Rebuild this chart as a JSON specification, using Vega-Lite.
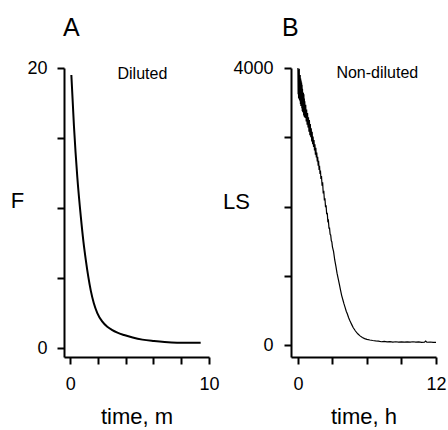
{
  "$schema": "https://vega.github.io/schema/vega-lite/v6.json",
  "background": "white",
  "padding": {"left": 10, "top": 16, "right": 5, "bottom": 0},
  "spacing": 82,
  "bounds": "flush",
  "config": {
    "view": {"stroke": null},
    "font": "Liberation Sans",
    "axis": {
      "grid": false,
      "domainColor": "black",
      "domainWidth": 2,
      "tickColor": "black",
      "tickWidth": 2,
      "tickSize": 7,
      "labelColor": "black",
      "labelFont": "Liberation Sans",
      "labelFontSize": 18,
      "labelPadding": 11,
      "labelOverlap": false,
      "labelFlush": false,
      "labelBound": false,
      "titleColor": "black",
      "titleFont": "Liberation Sans",
      "titleFontSize": 22,
      "titleFontWeight": "normal"
    },
    "title": {"font": "Liberation Sans", "fontSize": 25, "fontWeight": "normal", "color": "black", "anchor": "start", "frame": "group"}
  },
  "hconcat": [
    {
      "width": 145,
      "height": 289,
      "title": {"text": "A", "offset": 18, "dx": -1},
      "encoding": {
        "x": {"field": "t", "type": "quantitative", "scale": {"domain": [-0.45, 10], "nice": false, "zero": false},
              "axis": {"title": "time, m", "values": [0, 2, 4, 6, 8, 10], "labelExpr": "datum.value == 0 || datum.value == 10 ? datum.label : ''", "titleY": 59, "titleBaseline": "middle"}},
        "y": {"field": "F", "type": "quantitative", "scale": {"domain": [-0.64, 20], "nice": false, "zero": false},
              "axis": {"title": "F", "values": [0, 5, 10, 15, 20], "labelExpr": "datum.value == 0 || datum.value == 20 ? datum.label : ''", "labelPadding": 10, "titleAngle": 0, "titleX": -47, "titleY": 132, "titleAlign": "center", "titleBaseline": "middle"}}
      },
      "layer": [
        {
          "data": {"values": [
            {"t": 0.08, "F": 19.5}, {"t": 0.27, "F": 15.8}, {"t": 0.51, "F": 12.2}, {"t": 0.76, "F": 9.4},
            {"t": 0.95, "F": 7.6}, {"t": 1.12, "F": 6.3}, {"t": 1.3, "F": 5.1}, {"t": 1.48, "F": 4.1},
            {"t": 1.7, "F": 3.2}, {"t": 1.95, "F": 2.5}, {"t": 2.3, "F": 1.9}, {"t": 2.67, "F": 1.52},
            {"t": 3.0, "F": 1.3}, {"t": 3.4, "F": 1.1}, {"t": 3.88, "F": 0.93}, {"t": 4.5, "F": 0.75},
            {"t": 5.2, "F": 0.6}, {"t": 6.04, "F": 0.5}, {"t": 6.8, "F": 0.43}, {"t": 7.7, "F": 0.38},
            {"t": 8.5, "F": 0.37}, {"t": 9.4, "F": 0.38}
          ]},
          "mark": {"type": "line", "color": "black", "strokeWidth": 2, "interpolate": "monotone"}
        },
        {
          "data": {"values": [{"t": 5.2, "F": 19.6, "label": "Diluted"}]},
          "mark": {"type": "text", "fontSize": 16, "font": "Liberation Sans", "color": "black"},
          "encoding": {"text": {"field": "label"}}
        }
      ]
    },
    {
      "width": 145,
      "height": 289,
      "title": {"text": "B", "offset": 18, "dx": -9},
      "encoding": {
        "x": {"field": "t", "type": "quantitative", "scale": {"domain": [-0.6, 12], "nice": false, "zero": false},
              "axis": {"title": "time, h", "values": [0, 3, 6, 9, 12], "labelExpr": "datum.value == 0 || datum.value == 12 ? datum.label : ''", "titleY": 59, "titleBaseline": "middle"}},
        "y": {"field": "v", "type": "quantitative", "scale": {"domain": [-170, 4000], "nice": false, "zero": false},
              "axis": {"title": "LS", "format": "d", "values": [0, 1000, 2000, 3000, 4000], "labelExpr": "datum.value == 0 || datum.value == 4000 ? datum.label : ''", "labelPadding": 11, "titleAngle": 0, "titleX": -55, "titleY": 133, "titleAlign": "center", "titleBaseline": "middle"}}
      },
      "layer": [
        {
          "data": {"values": [
            {"t": 0.00, "v": 4000}, {"t": 0.02, "v": 3620}, {"t": 0.04, "v": 3980}, {"t": 0.06, "v": 3560},
            {"t": 0.08, "v": 3950}, {"t": 0.10, "v": 3600}, {"t": 0.12, "v": 3990}, {"t": 0.14, "v": 3540},
            {"t": 0.16, "v": 3880}, {"t": 0.18, "v": 3520}, {"t": 0.20, "v": 3900}, {"t": 0.22, "v": 3480},
            {"t": 0.24, "v": 3850}, {"t": 0.26, "v": 3450}, {"t": 0.28, "v": 3820}, {"t": 0.30, "v": 3500},
            {"t": 0.32, "v": 3790}, {"t": 0.34, "v": 3420}, {"t": 0.36, "v": 3760}, {"t": 0.38, "v": 3380},
            {"t": 0.40, "v": 3700}, {"t": 0.42, "v": 3360}, {"t": 0.44, "v": 3650}, {"t": 0.46, "v": 3380},
            {"t": 0.48, "v": 3640}, {"t": 0.50, "v": 3320}, {"t": 0.52, "v": 3620}, {"t": 0.54, "v": 3300},
            {"t": 0.56, "v": 3560}, {"t": 0.58, "v": 3290}, {"t": 0.60, "v": 3520}, {"t": 0.64, "v": 3280},
            {"t": 0.68, "v": 3470}, {"t": 0.72, "v": 3230}, {"t": 0.76, "v": 3400}, {"t": 0.80, "v": 3180},
            {"t": 0.84, "v": 3350}, {"t": 0.88, "v": 3140}, {"t": 0.92, "v": 3290}, {"t": 0.96, "v": 3080},
            {"t": 1.00, "v": 3250}, {"t": 1.04, "v": 3030}, {"t": 1.08, "v": 3190}, {"t": 1.12, "v": 3000},
            {"t": 1.16, "v": 3130}, {"t": 1.20, "v": 2940}, {"t": 1.24, "v": 3080}, {"t": 1.28, "v": 2900},
            {"t": 1.32, "v": 3010}, {"t": 1.36, "v": 2860}, {"t": 1.40, "v": 2960}, {"t": 1.44, "v": 2810},
            {"t": 1.48, "v": 2900}, {"t": 1.52, "v": 2750}, {"t": 1.56, "v": 2850}, {"t": 1.60, "v": 2710},
            {"t": 1.64, "v": 2780}, {"t": 1.68, "v": 2650}, {"t": 1.72, "v": 2720}, {"t": 1.76, "v": 2590},
            {"t": 1.80, "v": 2660}, {"t": 1.84, "v": 2530}, {"t": 1.88, "v": 2590}, {"t": 1.92, "v": 2470},
            {"t": 1.96, "v": 2520}, {"t": 2.00, "v": 2400}, {"t": 2.05, "v": 2440}, {"t": 2.10, "v": 2300},
            {"t": 2.15, "v": 2350}, {"t": 2.20, "v": 2190}, {"t": 2.25, "v": 2230}, {"t": 2.30, "v": 2090},
            {"t": 2.35, "v": 2120}, {"t": 2.40, "v": 1990}, {"t": 2.45, "v": 2020}, {"t": 2.50, "v": 1890},
            {"t": 2.55, "v": 1910}, {"t": 2.60, "v": 1790}, {"t": 2.65, "v": 1800}, {"t": 2.70, "v": 1690},
            {"t": 2.75, "v": 1690}, {"t": 2.80, "v": 1600}, {"t": 2.85, "v": 1590}, {"t": 2.90, "v": 1510},
            {"t": 2.95, "v": 1490}, {"t": 3.00, "v": 1420}, {"t": 3.10, "v": 1350}, {"t": 3.20, "v": 1230},
            {"t": 3.30, "v": 1140}, {"t": 3.40, "v": 1040}, {"t": 3.50, "v": 960}, {"t": 3.60, "v": 880},
            {"t": 3.70, "v": 800}, {"t": 3.80, "v": 720}, {"t": 3.90, "v": 660}, {"t": 4.00, "v": 600},
            {"t": 4.10, "v": 545}, {"t": 4.20, "v": 490}, {"t": 4.30, "v": 450}, {"t": 4.40, "v": 400},
            {"t": 4.50, "v": 360}, {"t": 4.60, "v": 325}, {"t": 4.70, "v": 290}, {"t": 4.80, "v": 255},
            {"t": 4.90, "v": 230}, {"t": 5.00, "v": 205}, {"t": 5.20, "v": 165}, {"t": 5.40, "v": 135},
            {"t": 5.60, "v": 110}, {"t": 5.80, "v": 95}, {"t": 6.00, "v": 85}, {"t": 6.25, "v": 75},
            {"t": 6.50, "v": 68}, {"t": 6.75, "v": 62}, {"t": 7.00, "v": 58}, {"t": 7.25, "v": 50},
            {"t": 7.50, "v": 55}, {"t": 7.75, "v": 48}, {"t": 8.00, "v": 52}, {"t": 8.25, "v": 46},
            {"t": 8.50, "v": 50}, {"t": 8.75, "v": 45}, {"t": 9.00, "v": 49}, {"t": 9.25, "v": 44},
            {"t": 9.50, "v": 48}, {"t": 9.75, "v": 45}, {"t": 10.00, "v": 50}, {"t": 10.25, "v": 44},
            {"t": 10.50, "v": 47}, {"t": 10.75, "v": 42}, {"t": 11.00, "v": 45}, {"t": 11.10, "v": 60},
            {"t": 11.20, "v": 43}, {"t": 11.50, "v": 46}, {"t": 11.75, "v": 40}, {"t": 12.00, "v": 42}
          ]},
          "mark": {"type": "line", "color": "black", "strokeWidth": 1.2}
        },
        {
          "data": {"values": [{"t": 6.9, "v": 3930, "label": "Non-diluted"}]},
          "mark": {"type": "text", "fontSize": 16, "font": "Liberation Sans", "color": "black"},
          "encoding": {"text": {"field": "label"}}
        }
      ]
    }
  ]
}
